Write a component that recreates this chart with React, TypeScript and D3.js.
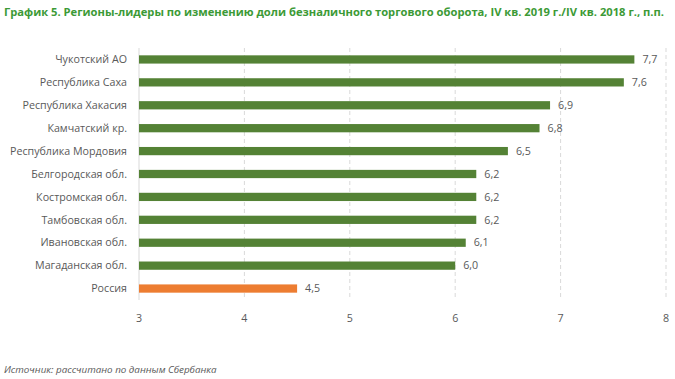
import React from "react";
import * as d3 from "d3";

const categories = [
  "Чукотский АО",
  "Республика Саха",
  "Республика Хакасия",
  "Камчатский кр.",
  "Республика Мордовия",
  "Белгородская обл.",
  "Костромская обл.",
  "Тамбовская обл.",
  "Ивановская обл.",
  "Магаданская обл.",
  "Россия",
];
const values = [7.7, 7.6, 6.9, 6.8, 6.5, 6.2, 6.2, 6.2, 6.1, 6.0, 4.5];
const ticks = [3, 4, 5, 6, 7, 8];
const title =
  "График 5. Регионы-лидеры по изменению доли безналичного торгового оборота, IV кв. 2019 г./IV кв. 2018 г., п.п.";
const source = "Источник: рассчитано по данным Сбербанка";

const W = 675;
const H = 379;
const font = "'Open Sans', 'Liberation Sans', sans-serif";

export default function App() {
  const x = d3.scaleLinear().domain([3, 8]).range([139, 666]);
  const y = d3
    .scaleBand<string>()
    .domain(categories)
    .range([48, 300])
    .paddingInner(0.64)
    .paddingOuter(0.32);
  const fmt = (v: number) => v.toFixed(1).replace(".", ",");
  return (
    <svg
      width={W}
      height={H}
      style={{ position: "absolute", left: 0, top: 0, background: "#fff" }}
      fontFamily={font}
    >
      <text
        x={4}
        y={16}
        fill="#3c9a36"
        fontWeight="bold"
        fontSize={11.3}
        textLength={660}
        lengthAdjust="spacingAndGlyphs"
      >
        {title}
      </text>
      {ticks.map((t) => (
        <line
          key={t}
          x1={x(t)}
          x2={x(t)}
          y1={48}
          y2={300}
          stroke="#d9d9d9"
          strokeDasharray={t === 3 ? undefined : "4,3"}
        />
      ))}
      {categories.map((c, i) => {
        const yy = y(c)!;
        const cy = yy + y.bandwidth() / 2;
        const isRu = c === "Россия";
        return (
          <g key={c}>
            <rect
              x={x(3)}
              y={yy}
              width={x(values[i]) - x(3)}
              height={y.bandwidth()}
              fill={isRu ? "#ed7d31" : "#548235"}
            />
            <text
              x={127}
              y={cy}
              dy="0.35em"
              textAnchor="end"
              fontSize={10.7}
              fill="#595959"
            >
              {c}
            </text>
            <text
              x={x(values[i]) + 8}
              y={cy}
              dy="0.35em"
              fontSize={10.7}
              fill="#595959"
            >
              {fmt(values[i])}
            </text>
          </g>
        );
      })}
      {ticks.map((t) => (
        <text
          key={"l" + t}
          x={x(t)}
          y={318}
          dy="0.35em"
          textAnchor="middle"
          fontSize={10.7}
          fill="#595959"
        >
          {t}
        </text>
      ))}
      <text x={4} y={373} fontSize={9.8} fontStyle="italic" fill="#595959">
        {source}
      </text>
    </svg>
  );
}
